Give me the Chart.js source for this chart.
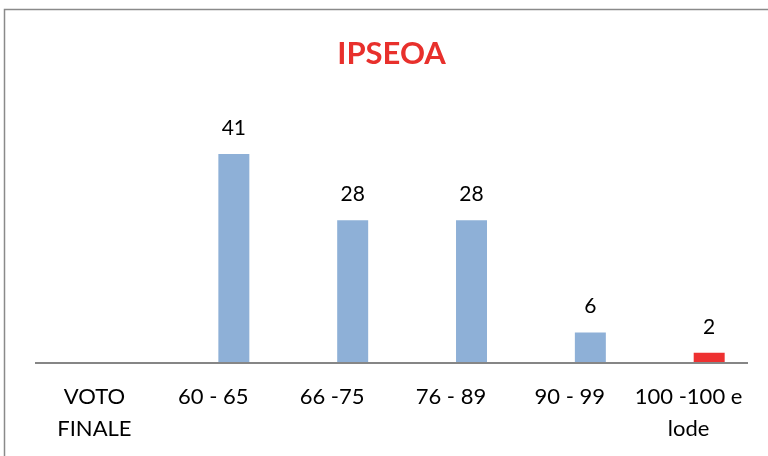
<!DOCTYPE html>
<html>
<head>
<meta charset="utf-8">
<script src="https://cdn.jsdelivr.net/npm/chart.js@4.4.1/dist/chart.umd.min.js"></script>
<style>
  html, body { margin: 0; padding: 0; background: #fff; }
  #wrap { width: 768px; height: 456px; position: relative; }
</style>
</head>
<body>
<div id="wrap"><canvas id="c" width="768" height="456"></canvas></div>
<script>
const categories = [["VOTO", "FINALE"], "60 - 65", "66 -75", "76 - 89", "90 - 99", ["100 -100 e", "lode"]];
const emptySeries = [null, null, null, null, null, null];
const values = [null, 41, 28, 28, 6, 2];
const barColors = ["#8EB0D7", "#8EB0D7", "#8EB0D7", "#8EB0D7", "#8EB0D7", "#EE3131"];
const titleText = "IPSEOA";

const FONT = "Lato, 'Open Sans', sans-serif";

const frame = {
  id: 'frame',
  beforeDraw(chart) {
    const ctx = chart.ctx;
    ctx.save();
    ctx.fillStyle = '#fff';
    ctx.fillRect(0, 0, chart.width, chart.height);
    ctx.strokeStyle = '#8a8a8a';
    ctx.lineWidth = 1.5;
    ctx.strokeRect(4.5, 9.5, 900, 600);
    ctx.restore();
  }
};

const baseLine = {
  id: 'baseLine',
  afterDatasetsDraw(chart) {
    const ctx = chart.ctx;
    const a = chart.chartArea;
    const y = chart.scales.y.getPixelForValue(0);
    ctx.save();
    ctx.strokeStyle = '#868686';
    ctx.lineWidth = 2;
    ctx.beginPath();
    ctx.moveTo(a.left, y);
    ctx.lineTo(a.right, y);
    ctx.stroke();
    ctx.restore();
  }
};

const valueLabels = {
  id: 'valueLabels',
  afterDatasetsDraw(chart) {
    const ctx = chart.ctx;
    const meta = chart.getDatasetMeta(1);
    ctx.save();
    ctx.font = "21px " + FONT;
    ctx.fillStyle = '#000';
    ctx.textAlign = 'center';
    ctx.textBaseline = 'alphabetic';
    meta.data.forEach((bar, i) => {
      const v = chart.data.datasets[1].data[i];
      if (v === null || v === undefined) return;
      ctx.fillText(String(v), bar.x, bar.y - 19);
    });
    ctx.restore();
  }
};

new Chart(document.getElementById('c'), {
  type: 'bar',
  data: {
    labels: categories,
    datasets: [
      { label: '', data: emptySeries, backgroundColor: '#4F81BD' },
      { label: 'IPSEOA', data: values, backgroundColor: barColors }
    ]
  },
  options: {
    responsive: false,
    animation: false,
    devicePixelRatio: 1,
    categoryPercentage: 0.6934,
    barPercentage: 0.752,
    layout: { padding: { left: 35, right: 20, top: 35, bottom: -7 } },
    plugins: {
      legend: { display: false },
      tooltip: { enabled: false },
      title: {
        display: true,
        text: titleText,
        color: '#E8302C',
        font: { family: FONT, size: 31, weight: 'bold', lineHeight: 1.2 },
        padding: { top: 0, bottom: 36 }
      }
    },
    scales: {
      x: {
        grid: { display: false, drawTicks: false },
        border: { display: false },
        ticks: {
          color: '#000',
          padding: 18,
          maxRotation: 0,
          autoSkip: false,
          font: { family: FONT, size: 22, lineHeight: 1.4545 }
        }
      },
      y: {
        display: false,
        min: 0,
        max: 50
      }
    }
  },
  plugins: [frame, baseLine, valueLabels]
});
</script>
</body>
</html>
